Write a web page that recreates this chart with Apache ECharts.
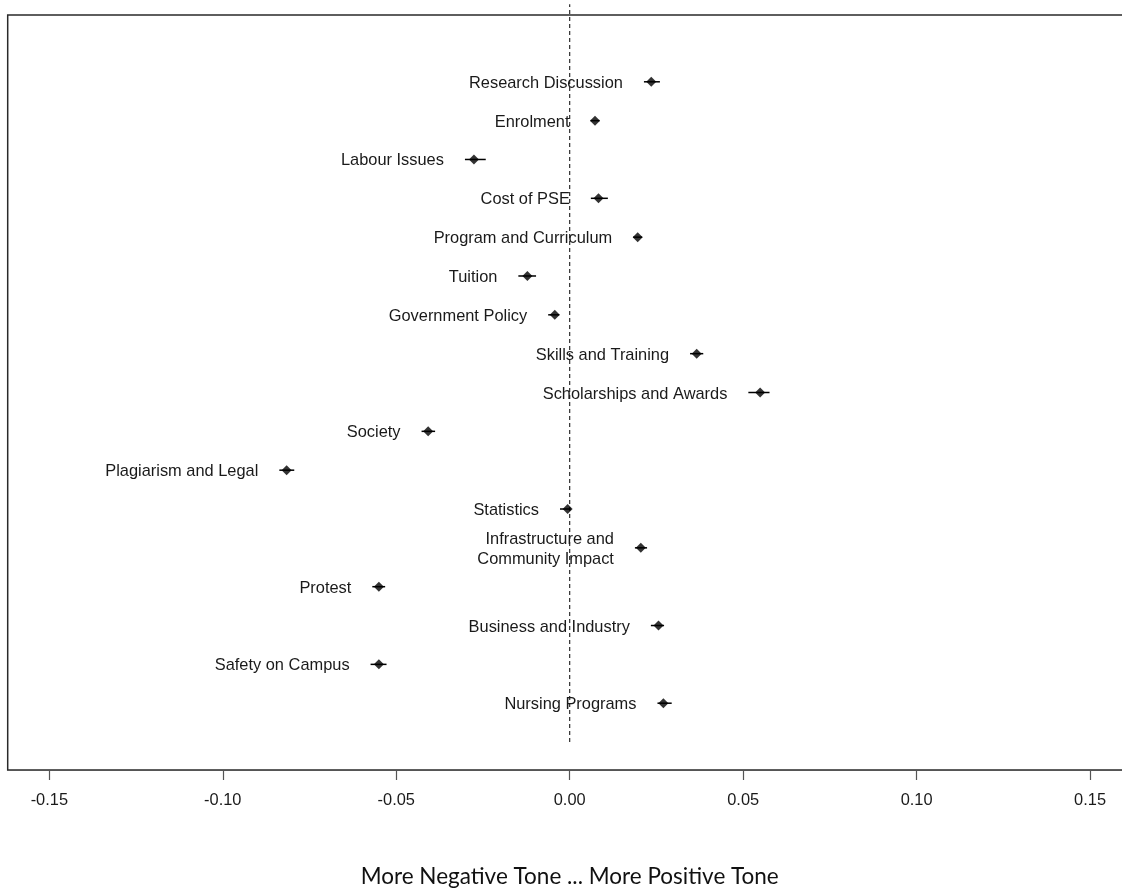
<!DOCTYPE html>
<html>
<head>
<meta charset="utf-8">
<script src="https://cdn.jsdelivr.net/npm/echarts@6/dist/echarts.min.js"></script>
<style>
html,body{margin:0;padding:0;background:#fff;}
#chart{width:1122px;height:890px;}
</style>
</head>
<body>
<div id="chart"></div>
<script>
// Topics from top to bottom
const categories = ['Research Discussion','Enrolment','Labour Issues','Cost of PSE','Program and Curriculum','Tuition','Government Policy','Skills and Training','Scholarships and Awards','Society','Plagiarism and Legal','Statistics','Infrastructure and\nCommunity Impact','Protest','Business and Industry','Safety on Campus','Nursing Programs'];
const estimates = [0.0235,0.0073,-0.0276,0.0083,0.0196,-0.0122,-0.0043,0.0366,0.0549,-0.0408,-0.0816,-0.0006,0.0205,-0.0550,0.0256,-0.0550,0.0270];
const lowerCI   = [0.0214,0.0060,-0.0302,0.0061,0.0183,-0.0148,-0.0062,0.0347,0.0515,-0.0427,-0.0837,-0.0028,0.0188,-0.0569,0.0234,-0.0574,0.0253];
const upperCI   = [0.0260,0.0086,-0.0242,0.0110,0.0209,-0.0097,-0.0030,0.0385,0.0576,-0.0388,-0.0794,0.0003,0.0223,-0.0532,0.0272,-0.0528,0.0294];
const tickValues = [-0.15,-0.10,-0.05,0.00,0.05,0.10,0.15];
const axisTitle = 'More Negative Tone ... More Positive Tone';

const n = categories.length;
const pos = categories.map((c,i)=> n - i);

const chart = echarts.init(document.getElementById('chart'), null, {renderer:'canvas'});
const FONT = 'Liberation Sans, Arial, sans-serif';

const option = {
  animation: false,
  backgroundColor: '#fff',
  grid: {
    left: 7.7, top: 15, width: 1124, height: 755,
    outerBoundsMode: 'none', containLabel: false,
    show: true, borderColor: '#2a2a2a', borderWidth: 1.5, backgroundColor: 'transparent'
  },
  xAxis: {
    type: 'value', min: -0.162, max: 0.162,
    splitLine: {show:false},
    axisLine: {show:true, onZero:false, lineStyle:{color:'#555', width:1.2}},
    axisTick: {show:true, length:10, customValues: tickValues, lineStyle:{color:'#555', width:1.2}},
    axisLabel: {show:true, customValues: tickValues, margin: 22, fontSize: 16.4, fontFamily: FONT, color:'#1a1a1a',
      formatter: v => (Math.abs(v) < 1e-9 ? 0 : v).toFixed(2)},
    name: axisTitle, nameLocation: 'middle', nameGap: 107,
    nameTextStyle: {fontSize: 22.5, fontFamily: 'Lato, Open Sans, sans-serif', color:'#111', verticalAlign:'middle'}
  },
  yAxis: {
    type: 'value', min: -0.72, max: 18.72,
    show: false, splitLine:{show:false}
  },
  series: [
    {
      type: 'custom',
      clip: false,
      silent: true,
      data: [[0, 0, 19]],
      renderItem: function(params, api){
        const a = api.coord([api.value(0), api.value(1)]);
        const b = api.coord([api.value(0), api.value(2)]);
        return {type:'line', shape:{x1:a[0], y1:a[1], x2:b[0], y2:b[1]},
          style:{stroke:'#1a1a1a', lineWidth:1.1, lineDash:[4,3]}};
      }
    },
    {
      type: 'custom',
      silent: true,
      data: categories.map((c,i)=>[lowerCI[i], upperCI[i], pos[i], i]),
      renderItem: function(params, api){
        const y = api.value(2);
        const a = api.coord([api.value(0), y]);
        const b = api.coord([api.value(1), y]);
        const idx = api.value(3);
        return {type:'group', children:[
          {type:'line', shape:{x1:a[0], y1:a[1], x2:b[0], y2:b[1]}, style:{stroke:'#000', lineWidth:1.5}},
          {type:'text', x: a[0]-21, y: a[1]+1.5, style:{text: categories[idx], align:'right', verticalAlign:'middle',
            font: '16.4px ' + FONT, fill:'#1a1a1a', lineHeight: 20}}
        ]};
      }
    },
    {
      type: 'scatter',
      symbol: 'diamond',
      symbolSize: [10, 10],
      itemStyle: {color:'#000'},
      silent: true,
      data: estimates.map((v,i)=>[v, pos[i]])
    }
  ]
};
chart.setOption(option);
</script>
</body>
</html>
